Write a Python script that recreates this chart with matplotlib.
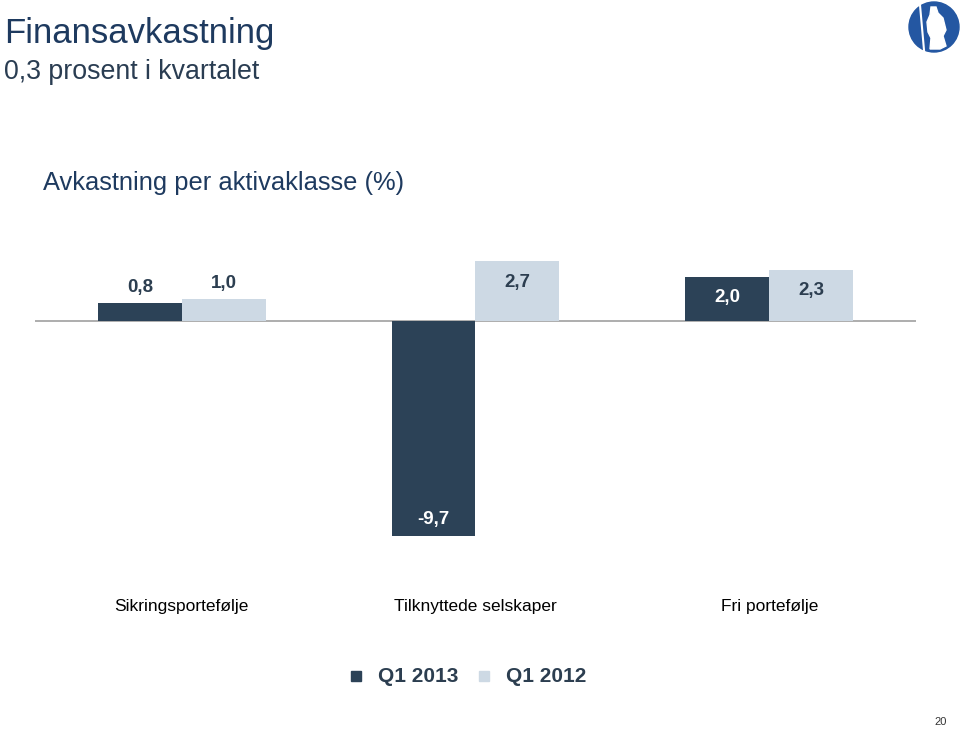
import matplotlib
matplotlib.use("Agg")
import matplotlib.pyplot as plt
from matplotlib.patches import Circle, Polygon, Rectangle
import numpy as np

plt.rcParams['font.family'] = ['Liberation Sans', 'DejaVu Sans']

categories = ["Sikringsportefølje", "Tilknyttede selskaper", "Fri portefølje"]
series_names = ["Q1 2013", "Q1 2012"]
q1_2013 = [0.8, -9.7, 2.0]
q1_2012 = [1.0, 2.7, 2.3]
labels_2013 = ["0,8", "-9,7", "2,0"]
labels_2012 = ["1,0", "2,7", "2,3"]

dark = "#2C4257"
light = "#CDD9E4"
textc = "#2C3E50"
titlec = "#1E3A5F"
subc = "#2A3D52"

W, H = 960, 730
fig = plt.figure(figsize=(W / 100, H / 100), dpi=100)

def fx(px):
    return px / W

def fy(py):
    return 1 - py / H

# axes placement: zero at y=321 px, 22.2 px per unit
ymin, ymax = -11, 4
ppu = 22.2
zero_px = 321
top_px = zero_px - ymax * ppu
bot_px = zero_px - ymin * ppu
ax = fig.add_axes([fx(35), fy(bot_px), fx(916) - fx(35), fy(top_px) - fy(bot_px)])
ax.set_xlim(-0.5, 2.5)
ax.set_ylim(ymin, ymax)
for s in ax.spines.values():
    s.set_visible(False)
ax.set_xticks([])
ax.set_yticks([])
ax.axhline(0, color="#A0A0A0", lw=1.2, zorder=1)

x = np.arange(len(categories))
w = 0.285
b1 = ax.bar(x - w / 2, q1_2013, width=w, color=dark, zorder=2)
b2 = ax.bar(x + w / 2, q1_2012, width=w, color=light, zorder=2)

def label(bars, vals, labs, inside_color):
    for b, v, l in zip(bars, vals, labs):
        cx = b.get_x() + b.get_width() / 2
        if abs(v) >= 1.5:
            off = -21 if v > 0 else 17
            ax.annotate(l, (cx, v), xytext=(0, off * 0.72), textcoords="offset points",
                        ha="center", va="center", fontsize=13.5, fontweight="bold",
                        color=inside_color)
        else:
            ax.annotate(l, (cx, v), xytext=(0, 5), textcoords="offset points",
                        ha="center", va="bottom", fontsize=13.5, fontweight="bold",
                        color=textc)

label(b1, q1_2013, labels_2013, "white")
label(b2, q1_2012, labels_2012, textc)

# category labels
cat_px = [181, 475, 770]
for px, c in zip(cat_px, categories):
    fig.text(fx(px), fy(607), c, ha="center", va="center", fontsize=12.5, color="black")

# titles
fig.text(fx(4), fy(33), "Finansavkastning", ha="left", va="center", fontsize=25, color=titlec)
fig.text(fx(4), fy(72), "0,3 prosent i kvartalet", ha="left", va="center", fontsize=19.3, color=subc)
fig.text(fx(43), fy(183), "Avkastning per aktivaklasse (%)", ha="left", va="center", fontsize=18.4, color=titlec)

# legend
leg_items = [(356, 378, dark, series_names[0]), (484, 506, light, series_names[1])]
for mx, tx, col, name in leg_items:
    fig.patches.append(Rectangle((fx(mx - 5), fy(681)), 10 / W, 10 / H, color=col,
                                 transform=fig.transFigure, figure=fig))
    fig.text(fx(tx), fy(676), name, ha="left", va="center", fontsize=15,
             fontweight="bold", color=textc)

# page number
fig.text(fx(941), fy(722), "20", ha="center", va="center", fontsize=8, color="#333333")

# logo in its own square axes (pixel coordinates inside)
lax = fig.add_axes([fx(908), fy(53), 52 / W, 52 / H])
lax.set_xlim(908, 960)
lax.set_ylim(53, 1)
lax.set_aspect("equal")
lax.axis("off")
lax.add_patch(Circle((934, 27), 25, color="#2457A2"))
sil = [(931, 7), (936, 7), (938, 13), (943, 18), (946, 30), (943, 36), (946, 46),
       (940, 49), (930, 49), (931, 38), (928, 32), (927, 22), (930, 15)]
lax.add_patch(Polygon(sil, closed=True, color="white"))
lax.plot([920, 924], [5, 50], color="white", lw=1.5)

fig.savefig("out.png", dpi=100, facecolor="white")
